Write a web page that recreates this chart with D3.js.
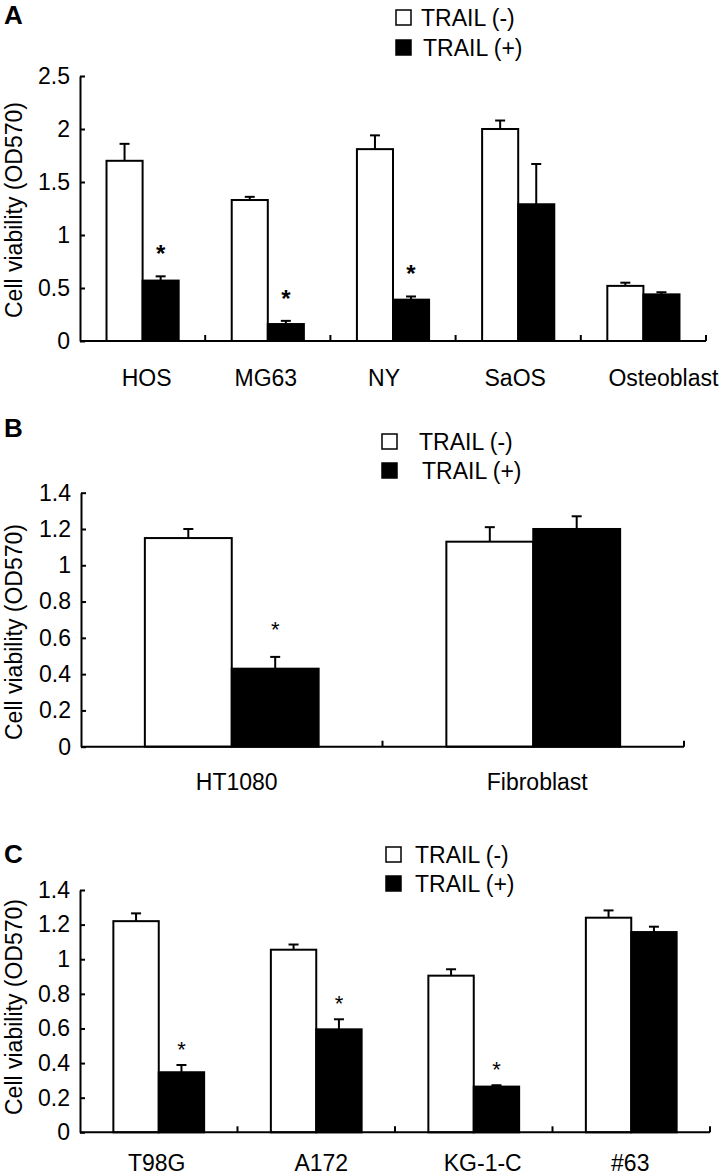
<!DOCTYPE html>
<html><head><meta charset="utf-8">
<script src="https://cdn.jsdelivr.net/npm/d3@7/dist/d3.min.js"></script>
<style>body{margin:0;background:#fff}text{font-family:"Liberation Sans",Arial,sans-serif}</style>
</head><body><div id="chart"></div>
<script>
// ---------- DATA ----------
const seriesNames = ["TRAIL (-)", "TRAIL (+)"];

const catsA = ["HOS", "MG63", "NY", "SaOS", "Osteoblast"];
const minusA = [1.70, 1.33, 1.81, 2.00, 0.52];
const minusErrA = [0.16, 0.03, 0.13, 0.08, 0.03];
const plusA = [0.57, 0.16, 0.39, 1.29, 0.44];
const plusErrA = [0.04, 0.03, 0.03, 0.38, 0.02];
const sigA = [true, true, true, false, false];
const ticksA = [0, 0.5, 1, 1.5, 2, 2.5];
const tickLabelsA = ["0", "0.5", "1", "1.5", "2", "2.5"];

const catsB = ["HT1080", "Fibroblast"];
const minusB = [1.15, 1.13];
const minusErrB = [0.05, 0.08];
const plusB = [0.43, 1.20];
const plusErrB = [0.065, 0.07];
const sigB = [true, false];

const catsC = ["T98G", "A172", "KG-1-C", "#63"];
const minusC = [1.22, 1.055, 0.905, 1.24];
const minusErrC = [0.045, 0.03, 0.037, 0.042];
const plusC = [0.347, 0.595, 0.264, 1.157];
const plusErrC = [0.042, 0.058, 0.008, 0.031];
const sigC = [true, true, true, false];

const ticksBC = [0, 0.2, 0.4, 0.6, 0.8, 1, 1.2, 1.4];
const tickLabelsBC = ["0", "0.2", "0.4", "0.6", "0.8", "1", "1.2", "1.4"];

const yLabel = "Cell viability (OD570)";

// ---------- DRAW ----------
const W = 726, H = 1176;
const svg = d3.select("#chart").append("svg").attr("width", W).attr("height", H);
const FONT = 23;

function drawPanel(cfg) {
  const g = svg.append("g");
  const x = d3.scaleBand().domain(cfg.cats).range([cfg.left, cfg.right]);
  const x1 = d3.scaleBand().domain([0, 1]).range([0, x.bandwidth()]).paddingInner(0).paddingOuter(0.735);
  const y = d3.scaleLinear().domain([0, cfg.yMax]).range([cfg.bottom, cfg.top]);
  const bw = x1.bandwidth();

  // panel letter
  g.append("text").attr("x", 4).attr("y", cfg.letterY).attr("font-size", 26)
    .attr("font-weight", "bold").text(cfg.letter);

  // bars + error bars
  cfg.cats.forEach((c, i) => {
    const vals = [[cfg.minus[i], cfg.minusErr[i]], [cfg.plus[i], cfg.plusErr[i]]];
    vals.forEach(([v, e], s) => {
      const bx = x(c) + x1(s);
      const cx = bx + bw / 2;
      g.append("line").attr("x1", cx).attr("x2", cx).attr("y1", y(v)).attr("y2", y(v + e))
        .attr("stroke", "#000").attr("stroke-width", 2);
      g.append("line").attr("x1", cx - 5).attr("x2", cx + 5).attr("y1", y(v + e)).attr("y2", y(v + e))
        .attr("stroke", "#000").attr("stroke-width", 2);
      g.append("rect").attr("x", bx).attr("y", y(v)).attr("width", bw).attr("height", y(0) - y(v))
        .attr("fill", s ? "#000" : "#fff").attr("stroke", "#000").attr("stroke-width", 2);
    });
    if (cfg.sig[i]) {
      g.append("text").attr("x", x(c) + x1(1) + bw / 2)
        .attr("y", y(cfg.plus[i] + cfg.plusErr[i]) - cfg.starOff)
        .attr("text-anchor", "middle").attr("font-size", cfg.starSize)
        .attr("font-weight", cfg.starBold ? "bold" : "normal").text("*");
    }
  });

  // y axis
  const ya = g.append("g").attr("transform", `translate(${cfg.left},0)`)
    .call(d3.axisLeft(y).tickValues(cfg.ticks).tickFormat((d, i) => cfg.tickLabels[i])
      .tickSizeInner(-5).tickSizeOuter(0).tickPadding(10));
  ya.selectAll("path,line").attr("stroke", "#000").attr("stroke-width", 2);
  ya.selectAll("text").attr("font-size", FONT).attr("font-family", '"Liberation Sans",Arial,sans-serif').attr("fill", "#000");

  // x axis line
  g.append("line").attr("x1", cfg.left).attr("x2", cfg.right).attr("y1", y(0)).attr("y2", y(0))
    .attr("stroke", "#000").attr("stroke-width", 2);
  // boundary ticks (inward)
  const bounds = cfg.cats.slice(1).map(c => x(c)).concat([cfg.right]);
  bounds.forEach(bx => {
    g.append("line").attr("x1", bx).attr("x2", bx).attr("y1", y(0)).attr("y2", y(0) - 6)
      .attr("stroke", "#000").attr("stroke-width", 2);
  });
  // category labels
  cfg.cats.forEach((c, i) => {
    g.append("text").attr("x", x(c) + x.bandwidth() / 2 + cfg.labelDx[i]).attr("y", y(0) + cfg.labelOff)
      .attr("text-anchor", "middle").attr("font-size", FONT).text(c);
  });

  // y label
  g.append("text").attr("transform", `translate(22,${cfg.yLabelMid}) rotate(-90)`)
    .attr("text-anchor", "middle").attr("font-size", FONT).text(yLabel);

  // legend
  seriesNames.forEach((nm, s) => {
    const ly = cfg.legY + s * cfg.legGap;
    g.append("rect").attr("x", cfg.legX).attr("y", ly - 16).attr("width", 15).attr("height", 15)
      .attr("fill", s ? "#000" : "#fff").attr("stroke", "#000").attr("stroke-width", 1.5);
    g.append("text").attr("x", cfg.legX + cfg.legTextDx + s * cfg.legPlusShift).attr("y", ly)
      .attr("font-size", FONT).text(nm);
  });
}

drawPanel({
  letter: "A", letterY: 24, cats: catsA, minus: minusA, minusErr: minusErrA, plus: plusA, plusErr: plusErrA,
  sig: sigA, ticks: ticksA, tickLabels: tickLabelsA, yMax: 2.5,
  left: 80, right: 706, bottom: 341, top: 76, labelOff: 45, yLabelMid: 210,
  labelDx: [4, -2, -9, -3, 20],
  starOff: 14, starSize: 24, starBold: true,
  legX: 396, legY: 26, legGap: 30, legTextDx: 25, legPlusShift: 2
});
drawPanel({
  letter: "B", letterY: 437, cats: catsB, minus: minusB, minusErr: minusErrB, plus: plusB, plusErr: plusErrB,
  sig: sigB, ticks: ticksBC, tickLabels: tickLabelsBC, yMax: 1.4,
  left: 81, right: 684, bottom: 746.7, top: 492.7, labelOff: 43, yLabelMid: 632,
  labelDx: [5, 4],
  starOff: 20, starSize: 22, starBold: false,
  legX: 382, legY: 450, legGap: 29, legTextDx: 37, legPlusShift: 3
});
drawPanel({
  letter: "C", letterY: 863, cats: catsC, minus: minusC, minusErr: minusErrC, plus: plusC, plusErr: plusErrC,
  sig: sigC, ticks: ticksBC, tickLabels: tickLabelsBC, yMax: 1.4,
  left: 80, right: 710, bottom: 1132.3, top: 890, labelOff: 39, yLabelMid: 1007,
  labelDx: [-2, 5, 9, -1],
  starOff: 8, starSize: 22, starBold: false,
  legX: 386, legY: 863, legGap: 29, legTextDx: 29, legPlusShift: 0
});
</script>
</body></html>
